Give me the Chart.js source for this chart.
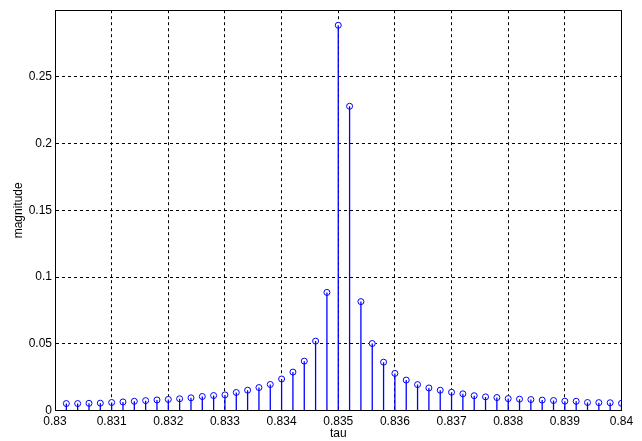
<!DOCTYPE html>
<html>
<head>
<meta charset="utf-8">
<script src="https://cdn.jsdelivr.net/npm/chart.js@4/dist/chart.umd.min.js"></script>
<style>
  html, body { margin: 0; padding: 0; background: #ffffff; }
  canvas { display: block; }
</style>
</head>
<body>
<canvas id="c" width="642" height="441"></canvas>
<script>
const tau = [
  0.8302, 0.8304, 0.8306, 0.8308, 0.8310, 0.8312, 0.8314, 0.8316, 0.8318, 0.8320,
  0.8322, 0.8324, 0.8326, 0.8328, 0.8330, 0.8332, 0.8334, 0.8336, 0.8338, 0.8340,
  0.8342, 0.8344, 0.8346, 0.8348, 0.8350, 0.8352, 0.8354, 0.8356, 0.8358, 0.8360,
  0.8362, 0.8364, 0.8366, 0.8368, 0.8370, 0.8372, 0.8374, 0.8376, 0.8378, 0.8380,
  0.8382, 0.8384, 0.8386, 0.8388, 0.8390, 0.8392, 0.8394, 0.8396, 0.8398, 0.8400
];
const magnitude = [
  0.0052, 0.0052, 0.0054, 0.0055, 0.0060, 0.0064, 0.0069, 0.0074, 0.0079, 0.0083,
  0.0088, 0.0095, 0.0105, 0.0112, 0.0117, 0.0135, 0.0152, 0.0172, 0.0195, 0.0236,
  0.0288, 0.0370, 0.0520, 0.0885, 0.2887, 0.2280, 0.0816, 0.0502, 0.0362, 0.0278,
  0.0228, 0.0194, 0.0169, 0.0152, 0.0137, 0.0125, 0.0111, 0.0102, 0.0097, 0.0089,
  0.0085, 0.0082, 0.0078, 0.0075, 0.0070, 0.0069, 0.0060, 0.0059, 0.0058, 0.0054
];
const xTicks = [0.83, 0.831, 0.832, 0.833, 0.834, 0.835, 0.836, 0.837, 0.838, 0.839, 0.84];
const xTickLabels = ['0.83', '0.831', '0.832', '0.833', '0.834', '0.835', '0.836', '0.837', '0.838', '0.839', '0.84'];
const yTicks = [0, 0.05, 0.1, 0.15, 0.2, 0.25];
const yTickLabels = ['0', '0.05', '0.1', '0.15', '0.2', '0.25'];
const xLabel = 'tau';
const yLabel = 'magnitude';

const stemPoints = [];
tau.forEach((t, i) => {
  stemPoints.push({x: t, y: 0});
  stemPoints.push({x: t, y: magnitude[i]});
  stemPoints.push({x: t, y: null});
});
const markerPoints = tau.map((t, i) => ({x: t, y: magnitude[i]}));

const FONT = {family: "'Liberation Sans', Arial, sans-serif", size: 12};

const framePlugin = {
  id: 'frame',
  afterDraw(chart) {
    const {ctx, chartArea: a} = chart;
    const al = (p) => Math.round(p - 0.5) + 0.5;
    ctx.save();
    ctx.strokeStyle = '#000000';
    ctx.lineWidth = 1;
    ctx.setLineDash([]);
    ctx.beginPath();
    ctx.rect(al(a.left), al(a.top), al(a.right) - al(a.left), al(a.bottom) - al(a.top));
    ctx.stroke();
    ctx.restore();
  }
};

new Chart(document.getElementById('c'), {
  type: 'scatter',
  data: {
    datasets: [
      {
        data: stemPoints,
        showLine: true,
        spanGaps: false,
        borderColor: '#0000ff',
        borderWidth: 1.3,
        pointRadius: 0,
        pointHoverRadius: 0,
        tension: 0
      },
      {
        data: markerPoints,
        showLine: false,
        pointStyle: 'circle',
        pointRadius: 3,
        pointHoverRadius: 3,
        pointBorderColor: '#0000ff',
        pointBackgroundColor: '#ffffff',
        pointBorderWidth: 1
      }
    ]
  },
  options: {
    responsive: false,
    animation: false,
    events: [],
    layout: {padding: {left: 0, right: 20.5, top: 5.5, bottom: 0}},
    plugins: {legend: {display: false}, tooltip: {enabled: false}},
    scales: {
      x: {
        type: 'linear',
        min: 0.83,
        max: 0.84,
        afterBuildTicks: (s) => { s.ticks = xTicks.map(v => ({value: v})); },
        afterFit: (s) => { s.height = 30.5; },
        ticks: {
          color: '#000000',
          font: FONT,
          padding: 4,
          maxRotation: 0,
          autoSkip: false,
          callback: (v, i) => xTickLabels[i]
        },
        grid: {color: '#000000', lineWidth: 1, drawTicks: false},
        border: {display: true, color: '#000000', width: 1, dash: [3, 3]},
        title: {display: true, text: xLabel, color: '#000000', font: FONT, padding: {top: 0, bottom: 0}}
      },
      y: {
        type: 'linear',
        min: 0,
        max: 0.3,
        afterBuildTicks: (s) => { s.ticks = yTicks.map(v => ({value: v})); },
        afterFit: (s) => { s.width = 55; },
        ticks: {
          color: '#000000',
          font: FONT,
          padding: 3,
          autoSkip: false,
          callback: (v, i) => yTickLabels[i]
        },
        grid: {color: '#000000', lineWidth: 1, drawTicks: false},
        border: {display: true, color: '#000000', width: 1, dash: [3, 3]},
        title: {display: true, text: yLabel, color: '#000000', font: FONT, padding: {top: 11, bottom: 0}}
      }
    }
  },
  plugins: [framePlugin]
});
</script>
</body>
</html>
